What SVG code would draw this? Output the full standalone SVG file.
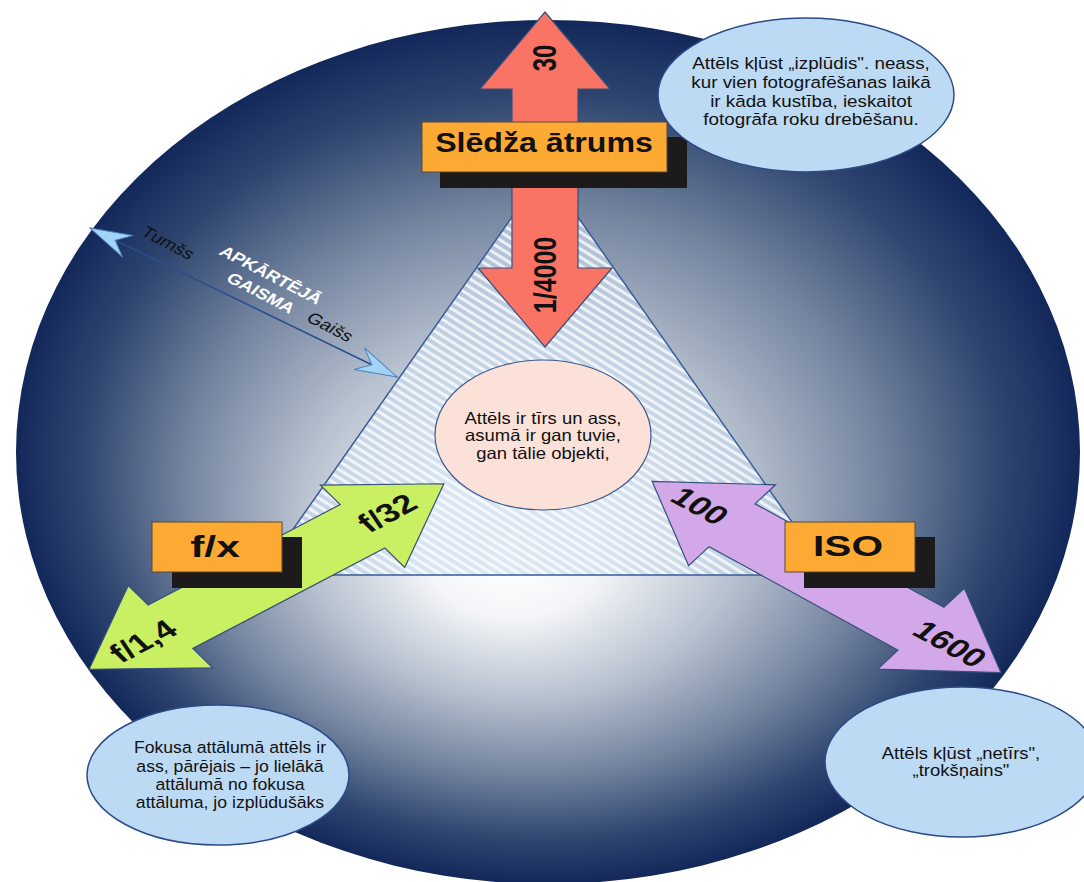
<svg xmlns="http://www.w3.org/2000/svg" width="1084" height="882" viewBox="0 0 1084 882">
<defs>
  <radialGradient id="bg" cx="0.5" cy="0.5" r="0.5" fx="0.46" fy="0.63">
    <stop offset="0" stop-color="#ffffff"/>
    <stop offset="0.17" stop-color="#f3f5f8"/>
    <stop offset="0.42" stop-color="#b7c1cf"/>
    <stop offset="0.66" stop-color="#72839e"/>
    <stop offset="0.86" stop-color="#2f4670"/>
    <stop offset="1" stop-color="#13285a"/>
  </radialGradient>
  <pattern id="hatch" patternUnits="userSpaceOnUse" width="7" height="7" patternTransform="rotate(32)">
    <rect width="7" height="7" fill="#c9dcef" fill-opacity="0.65"/>
    <rect width="7" height="3" fill="#ffffff" fill-opacity="0.75"/>
  </pattern>
  <marker id="chev" viewBox="-44 -16 46 32" markerWidth="46" markerHeight="32" refX="0" refY="0" orient="auto-start-reverse" markerUnits="userSpaceOnUse">
    <path d="M0,0 L-42,-12 L-28,0 L-42,12 Z" fill="#a3d3f7" stroke="#4a7fc0" stroke-width="1"/>
  </marker>
  <style>
    .f{font-family:"Liberation Sans",Arial,sans-serif}
    .b{font-weight:bold}
    .arr{stroke:#34507e;stroke-width:1.2;vector-effect:non-scaling-stroke}
    .box{fill:#fdaa35;stroke:#5a4a30;stroke-width:1}
    .sh{fill:#1c1a1a}
    .co{fill:#bddaf4;stroke:#2b4b86;stroke-width:1.5}
    .ct{font-size:16.5px;fill:#111;text-anchor:middle}
    .al{font-size:26px;fill:#111;text-anchor:middle;dominant-baseline:central}
  </style>
</defs>

<g id="background">
  <ellipse cx="548" cy="452" rx="532" ry="432" fill="url(#bg)"/>
</g>

<g id="triangle">
  <polygon points="545,170 261,575 829,575" fill="url(#hatch)" stroke="#3a5a9a" stroke-width="1.5"/>
</g>

<g id="connectors">
  <line x1="90" y1="228" x2="397" y2="377" stroke="#2a4d8c" stroke-width="1.5" marker-start="url(#chev)" marker-end="url(#chev)"/>
</g>

<g id="light-labels" class="f">
  <text transform="translate(168,243) scale(1.3,1) rotate(34)" font-size="15.5" fill="#111" text-anchor="middle" dominant-baseline="central">Tumšs</text>
  <text transform="translate(330,327) scale(1.3,1) rotate(34)" font-size="15.5" fill="#111" text-anchor="middle" dominant-baseline="central">Gaišs</text>
  <text class="b" transform="translate(271,275) scale(1.3,1) rotate(34)" font-size="15" fill="#ffffff" text-anchor="middle" dominant-baseline="central">APKĀRTĒJĀ</text>
  <text class="b" transform="translate(261,293) scale(1.3,1) rotate(34)" font-size="15" fill="#ffffff" text-anchor="middle" dominant-baseline="central">GAISMA</text>
</g>

<g id="shutter-arrow">
  <polygon points="545,12 610,89 578,89 578,268 612,268 545,347 478,268 512,268 512,89 480,89" fill="#fa7466" stroke="#34507e" stroke-width="1.2"/>
  <text class="f b" transform="translate(545,58) scale(1.35,1) rotate(-90)" font-size="24" fill="#111" text-anchor="middle" dominant-baseline="central">30</text>
  <text class="f b" transform="translate(545,275) scale(1.25,1) rotate(-90)" font-size="25" fill="#111" text-anchor="middle" dominant-baseline="central">1/4000</text>
</g>

<g id="aperture-arrow">
  <polygon class="arr" transform="translate(266.5,576.5) scale(1.4,1) rotate(-36.2)" points="-157,0 -85,-51 -85,-27 85,-27 85,-51 157,0 85,51 85,27 -85,27 -85,51" fill="#c9f062"/>
  <text class="f b al" transform="translate(387,513) scale(1.4,1) rotate(-36.2)">f/32</text>
  <text class="f b al" transform="translate(143,641) scale(1.4,1) rotate(-36.2)">f/1,4</text>
</g>

<g id="iso-arrow">
  <polygon class="arr" transform="translate(826.5,577) scale(1.4,1) rotate(37.5)" points="-157,0 -85,-51 -85,-27 85,-27 85,-51 157,0 85,51 85,27 -85,27 -85,51" fill="#d2a8e8"/>
  <text class="f b al" transform="translate(700,506) scale(1.4,1) rotate(37.5)">100</text>
  <text class="f b al" transform="translate(950,644) scale(1.4,1) rotate(37.5)">1600</text>
</g>

<g id="center-note">
  <ellipse cx="543" cy="435" rx="108" ry="75" fill="#fbe1d8" stroke="#3c5a92" stroke-width="1.2"/>
  <g class="f ct" transform="translate(543,0) scale(1.12,1)">
    <text x="0" y="424">Attēls ir tīrs un ass,</text>
    <text x="0" y="441.5">asumā ir gan tuvie,</text>
    <text x="0" y="459">gan tālie objekti,</text>
  </g>
</g>

<g id="shutter-box">
  <rect class="sh" x="440" y="137" width="247" height="51"/>
  <rect class="box" x="422" y="122" width="245" height="50"/>
  <text class="f b" transform="translate(544,152) scale(1.19,1)" font-size="27" fill="#111" text-anchor="middle">Slēdža ātrums</text>
</g>

<g id="aperture-box">
  <rect class="sh" x="172" y="537" width="130" height="51"/>
  <rect class="box" x="152" y="522" width="130" height="50"/>
  <text class="f b" transform="translate(215,557) scale(1.42,1)" font-size="30" fill="#111" text-anchor="middle">f/x</text>
</g>

<g id="iso-box">
  <rect class="sh" x="804" y="537" width="131" height="51"/>
  <rect class="box" x="785" y="522" width="130" height="50"/>
  <text class="f b" transform="translate(848,556) scale(1.4,1)" font-size="29" fill="#111" text-anchor="middle">ISO</text>
</g>

<g id="shutter-note">
  <ellipse class="co" cx="806" cy="95" rx="148" ry="77"/>
  <g class="f ct" transform="translate(811,0) scale(1.14,1)">
    <text x="0" y="69">Attēls kļūst „izplūdis". neass,</text>
    <text x="0" y="88">kur vien fotografēšanas laikā</text>
    <text x="0" y="107">ir kāda kustība, ieskaitot</text>
    <text x="0" y="125.5">fotogrāfa roku drebēšanu.</text>
  </g>
</g>

<g id="aperture-note">
  <ellipse class="co" cx="218" cy="775" rx="131" ry="70"/>
  <g class="f ct" transform="translate(230,0) scale(1.07,1)">
    <text x="0" y="753">Fokusa attālumā attēls ir</text>
    <text x="0" y="772">ass, pārējais – jo lielākā</text>
    <text x="0" y="790">attālumā no fokusa</text>
    <text x="0" y="808">attāluma, jo izplūdušāks</text>
  </g>
</g>

<g id="iso-note">
  <ellipse class="co" cx="962" cy="762" rx="137" ry="75"/>
  <g class="f ct" transform="translate(961,0) scale(1.12,1)">
    <text x="0" y="759">Attēls kļūst „netīrs",</text>
    <text x="0" y="776">„trokšņains"</text>
  </g>
</g>
</svg>
